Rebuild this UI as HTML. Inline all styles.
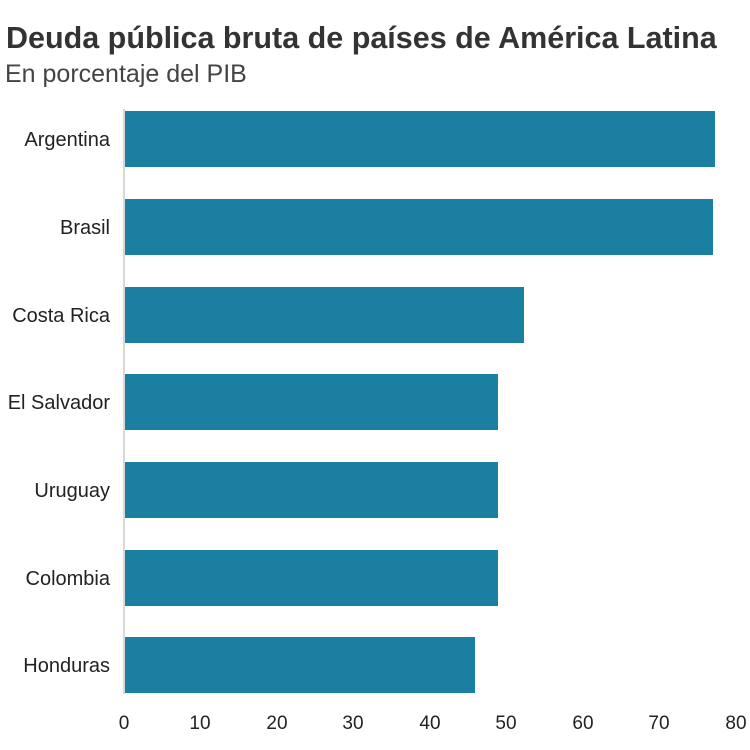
<!DOCTYPE html>
<html><head><meta charset="utf-8"><style>
html,body{margin:0;padding:0;background:#fff;width:750px;height:750px;overflow:hidden}
svg{display:block}
text{font-family:"Liberation Sans",Arial,sans-serif}
</style></head><body>
<svg width="750" height="750" xmlns="http://www.w3.org/2000/svg">
<text x="6" y="48" font-size="30.5" font-weight="bold" fill="#333">Deuda pública bruta de países de América Latina</text>
<text x="5" y="82" font-size="25" fill="#444">En porcentaje del PIB</text>
<line x1="124" y1="109" x2="124" y2="694" stroke="#ccc" stroke-width="1.5"/>
<g fill="#1a7fa0">
<rect x="125" y="111" width="590" height="56"/>
<rect x="125" y="199" width="588" height="56"/>
<rect x="125" y="287" width="399" height="56"/>
<rect x="125" y="374" width="373" height="56"/>
<rect x="125" y="462" width="373" height="56"/>
<rect x="125" y="550" width="373" height="56"/>
<rect x="125" y="637" width="350" height="56"/>
</g>
<g font-size="20" fill="#222" text-anchor="end">
<text x="110" y="146">Argentina</text>
<text x="110" y="234">Brasil</text>
<text x="110" y="322">Costa Rica</text>
<text x="110" y="409">El Salvador</text>
<text x="110" y="497">Uruguay</text>
<text x="110" y="585">Colombia</text>
<text x="110" y="672">Honduras</text>
</g>
<g font-size="19" fill="#222" text-anchor="middle">
<text x="124" y="729">0</text>
<text x="200" y="729">10</text>
<text x="277" y="729">20</text>
<text x="353" y="729">30</text>
<text x="430" y="729">40</text>
<text x="506" y="729">50</text>
<text x="583" y="729">60</text>
<text x="659" y="729">70</text>
<text x="736" y="729">80</text>
</g>
</svg>
</body></html>
